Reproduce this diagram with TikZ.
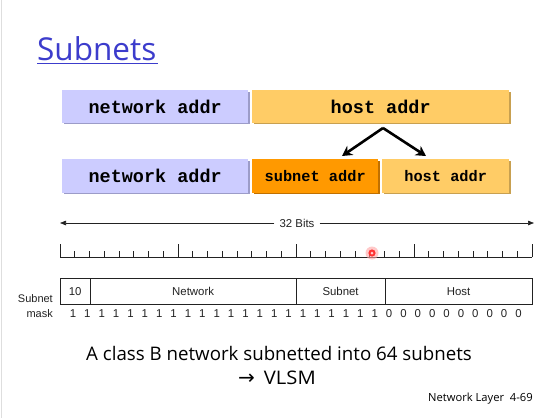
\documentclass[tikz,border=0pt]{standalone}
\usepackage{fontspec}
\usetikzlibrary{arrows.meta,shadows}
\setmainfont{Liberation Sans}
\newfontfamily\comicf{Open Sans}
\newfontfamily\helvf{Liberation Sans}
\newfontfamily\courf{Liberation Mono}
\newfontfamily\arrf{DejaVu Sans}
\definecolor{lav}{HTML}{CCCCFF}
\definecolor{lavS}{HTML}{9C9CC8}
\definecolor{lor}{HTML}{FFCC66}
\definecolor{lorS}{HTML}{C8A050}
\definecolor{org}{HTML}{FF9900}
\definecolor{orgS}{HTML}{C07000}
\definecolor{ttl}{HTML}{3C3CCC}
\definecolor{ink}{HTML}{222222}
\tikzset{
  addrbox/.style={draw=none, inner sep=0pt, anchor=north west, text=black,
    font=\courf\bfseries\fontsize{18.5}{20}\selectfont},
  smallbox/.style={addrbox, font=\courf\bfseries\fontsize{15.3}{17}\selectfont},
  fieldbox/.style={draw=ink, line width=0.7pt, inner sep=0pt, anchor=north west,
    minimum height=26pt, font=\helvf\fontsize{11.4}{13}\selectfont, text=ink},
  lbl/.style={font=\helvf\fontsize{11.4}{13}\selectfont, text=ink, inner sep=0pt},
  splitarrow/.style={line width=2.6pt, -{Stealth[length=10pt,width=11pt]}},
  bitarrow/.style={line width=0.7pt, draw=ink, -{Triangle[length=6pt,width=4.5pt]}}
}
\begin{document}
\begin{tikzpicture}[x=1pt,y=-1pt]
\useasboundingbox (0,0) rectangle (557,418);
\fill[white] (0,0) rectangle (557,418);
\draw[black!13, line width=1pt] (1,0) -- (1,418);
% title
\node[font=\comicf\fontsize{31.5}{34}\selectfont, text=ttl, anchor=west, inner sep=0pt] (title) at (37,49) {Subnets};
\draw[ttl, line width=1.3pt] (37,63.5) -- (158,63.5);
% row 1
\node[addrbox, fill=lav, minimum width=186pt, minimum height=32.5pt,
  drop shadow={shadow xshift=1.3pt,shadow yshift=-1.3pt,fill=lavS,opacity=1}] (netA) at (62,90) {network addr};
\node[addrbox, fill=lor, minimum width=257pt, minimum height=32.5pt,
  drop shadow={shadow xshift=1.3pt,shadow yshift=-1.3pt,fill=lorS,opacity=1}] (hostA) at (252,90) {host addr};
% row 2
\node[addrbox, fill=lav, minimum width=186pt, minimum height=33.5pt,
  drop shadow={shadow xshift=1.3pt,shadow yshift=-1.3pt,fill=lavS,opacity=1}] (netB) at (62,159) {network addr};
\node[smallbox, fill=org, minimum width=126pt, minimum height=33.5pt,
  drop shadow={shadow xshift=1.3pt,shadow yshift=-1.3pt,fill=orgS,opacity=1}] (subB) at (252,159) {subnet addr};
\node[smallbox, fill=lor, minimum width=127pt, minimum height=33.5pt,
  drop shadow={shadow xshift=1.3pt,shadow yshift=-1.3pt,fill=lorS,opacity=1}] (hostB) at (382,159) {host addr};
% split arrows
\coordinate (apex) at (383,128);
\coordinate (tipL) at (342,156);
\coordinate (tipR) at (426,156);
\draw[splitarrow] (apex) -- (tipL);
\draw[splitarrow] (apex) -- (tipR);
% 32 bits
\node[lbl] (bits) at (297,223) {32 Bits};
\coordinate (bitL) at (60,223);
\coordinate (bitR) at (534,223);
\draw[bitarrow] ([xshift=-5pt]bits.west) -- (bitL);
\draw[bitarrow] ([xshift=5pt]bits.east) -- (bitR);
% ruler
\draw[ink, line width=0.7pt] (60,257) -- (532,257);
\foreach \i in {0,...,32}{
  \pgfmathsetmacro{\xx}{60+\i*14.75}
  \pgfmathtruncatemacro{\mm}{mod(\i,8)}
  \ifnum\mm=0
    \draw[ink, line width=0.7pt] (\xx,257) -- (\xx,244);
  \else
    \draw[ink, line width=0.6pt] (\xx,257) -- (\xx,251);
  \fi
}
% red pointer dot
\fill[red!35, opacity=0.6] (372,253) circle (6.5);
\fill[red!80!white] (372,253) circle (3.6);
\fill[white!80!red] (372,253) circle (1.5);
% field box
\node[fieldbox, minimum width=29.5pt] (f10) at (60,278) {10};
\node[fieldbox, minimum width=206.5pt] (fnet) at (89.5,278) {Network};
\node[fieldbox, minimum width=88.5pt] (fsub) at (296,278) {Subnet};
\node[fieldbox, minimum width=147.5pt] (fhost) at (384.5,278) {Host};
\node[lbl, align=right, anchor=east, font=\helvf\fontsize{11}{15.5}\selectfont] (masklbl) at (53,306) {Subnet\\mask};
\foreach \i in {0,...,31}{
  \pgfmathsetmacro{\xx}{73+\i*14.37}
  \ifnum\i<22
    \node[lbl] (m\i) at (\xx,314) {1};
  \else
    \node[lbl] (m\i) at (\xx,314) {0};
  \fi
}
% bottom text
\node[font=\comicf\fontsize{18.7}{21}\selectfont, text=black, inner sep=0pt] (cap1) at (279,353) {A class B network subnetted into 64 subnets};
\node[font=\comicf\fontsize{18.7}{21}\selectfont, text=black, inner sep=0pt] (cap2) at (277,378) {{\arrf\fontsize{20}{21}\selectfont →}\hspace{9pt}\scalebox{1.08}[1]{VLSM}};
\node[font=\comicf\fontsize{11.2}{13}\selectfont, text=black, inner sep=0pt, anchor=east] (page) at (533,399) {Network Layer\ \ 4-69};
\end{tikzpicture}
\end{document}
